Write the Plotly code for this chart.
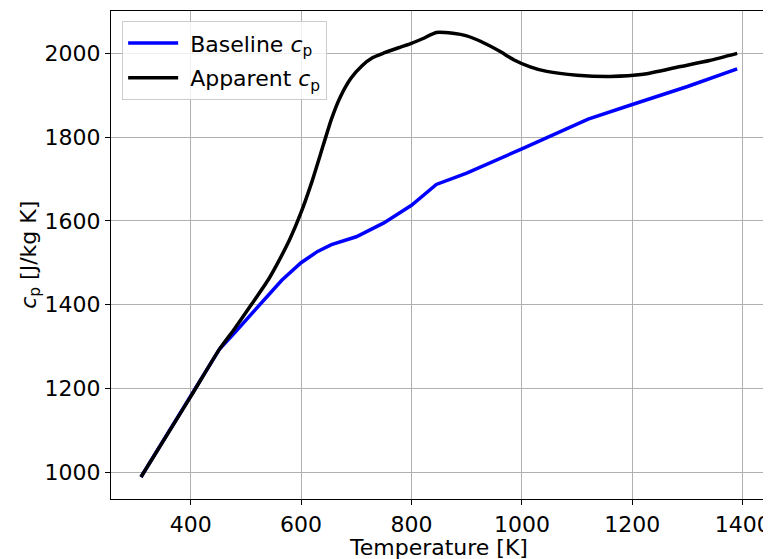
import plotly.graph_objects as go

temp_base = [310, 400, 452, 480, 510, 540, 565, 600, 630, 655, 700, 750, 800, 845, 900, 1000, 1120, 1200, 1300, 1390]
cp_base = [988, 1180, 1293, 1333, 1377, 1420, 1458, 1500, 1527, 1543, 1562, 1595, 1637, 1687, 1714, 1772, 1843, 1878, 1921, 1963]

temp_app = [310, 400, 452, 480, 510, 540, 560, 580, 600, 620, 640, 655, 670, 690, 710, 730, 750, 780, 800, 820, 845,
            875, 900, 925, 960, 985, 1015, 1045, 1100, 1160, 1220, 1285, 1340, 1390]
cp_app = [988, 1180, 1293, 1343, 1400, 1458, 1505, 1557, 1620, 1695, 1780, 1843, 1893, 1940, 1970, 1990, 2001, 2015, 2024, 2035, 2050,
          2048, 2042, 2029, 2005, 1985, 1968, 1957, 1948, 1945, 1950, 1968, 1983, 2000]

x_ticks = [400, 600, 800, 1000, 1200, 1400]
y_ticks = [1000, 1200, 1400, 1600, 1800, 2000]

FONT = "DejaVu Sans"
FS = 22
fig = go.Figure()
fig.add_trace(go.Scatter(x=temp_base, y=cp_base, mode="lines", name="&nbsp;Baseline <i>c</i><sub>p</sub>",
                         line=dict(color="#0000ff", width=3.5), legendgroup="a"))
fig.add_trace(go.Scatter(x=temp_app, y=cp_app, mode="lines", name="&nbsp;Apparent <i>c</i><sub>p</sub>",
                         line=dict(color="#000000", width=3.5, shape="spline", smoothing=0.6), legendgroup="b"))

axis_common = dict(showline=True, linecolor="black", linewidth=1.2, mirror=True,
                   ticks="outside", ticklen=5, tickwidth=1.2, tickcolor="black",
                   showgrid=True, gridcolor="#b0b0b0", gridwidth=1.1, zeroline=False,
                   automargin=False,
                   tickfont=dict(family=FONT, size=FS, color="black"))

# The page adds an 8px body margin, so the figure is sized to fit inside the window.
fig.update_layout(
    width=763, height=551,
    margin=dict(l=103, r=5, t=3, b=60, autoexpand=False),
    paper_bgcolor="white", plot_bgcolor="white",
    font=dict(family=FONT, size=FS, color="black"),
    xaxis=dict(range=[255.7, 1442.2], tickvals=x_ticks, **axis_common),
    yaxis=dict(range=[935.5, 2101.3], tickvals=y_ticks, **axis_common),
    legend=dict(x=0.017, y=0.979, xanchor="left", yanchor="top",
                bgcolor="rgba(255,255,255,0.8)", bordercolor="#cccccc", borderwidth=1,
                font=dict(family=FONT, size=FS), itemwidth=50, tracegroupgap=3),
    showlegend=True,
    annotations=[
        dict(text="Temperature [K]", x=0.5, y=-0.1, xref="paper", yref="paper",
             xanchor="center", yanchor="middle", showarrow=False, font=dict(family=FONT, size=FS)),
        dict(text="<i>c</i><sub>p</sub> [J/kg K]", x=-0.124, y=0.5, xref="paper", yref="paper",
             xanchor="center", yanchor="middle", textangle=-90, showarrow=False, font=dict(family=FONT, size=FS)),
    ],
)

fig.write_html("out.html")
